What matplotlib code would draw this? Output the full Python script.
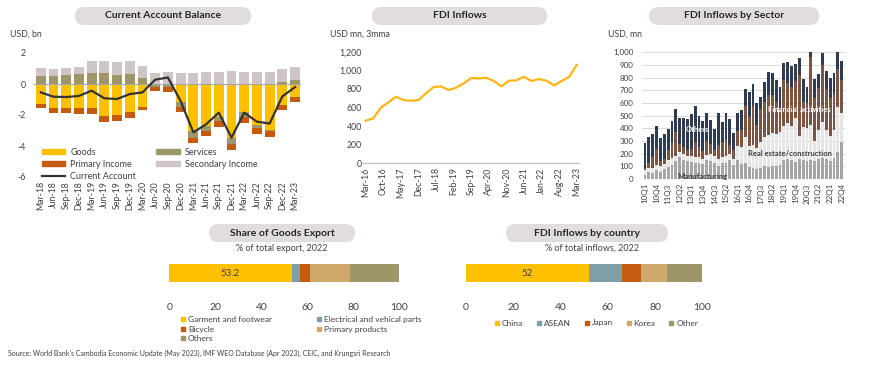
import matplotlib.pyplot as plt
import numpy as np
from matplotlib.patches import FancyBboxPatch, Patch
from matplotlib.lines import Line2D

plt.rcParams['font.family'] = ['Lato', 'DejaVu Sans']

W, H = 870, 378
TXT = '#404040'

# ---- Current account balance (USD bn), quarterly
ca_labels = ['Mar-18', 'Jun-18', 'Sep-18', 'Dec-18', 'Mar-19', 'Jun-19', 'Sep-19',
             'Dec-19', 'Mar-20', 'Jun-20', 'Sep-20', 'Dec-20', 'Mar-21', 'Jun-21',
             'Sep-21', 'Dec-21', 'Mar-22', 'Jun-22', 'Sep-22', 'Dec-22', 'Mar-23']
goods = [-1.29, -1.57, -1.57, -1.57, -1.53, -2.06, -2.00, -1.83, -1.50, -0.03, -0.02,
         -1.14, -3.03, -2.73, -2.10, -3.50, -1.78, -2.65, -2.97, -1.33, -0.84]
services = [0.54, 0.52, 0.56, 0.62, 0.73, 0.69, 0.58, 0.65, 0.37, -0.14, -0.19,
            -0.32, -0.43, -0.27, -0.28, -0.39, -0.32, -0.17, -0.05, 0.13, 0.28]
primary = [-0.28, -0.30, -0.30, -0.34, -0.41, -0.37, -0.39, -0.39, -0.15, -0.28, -0.28,
           -0.32, -0.37, -0.37, -0.37, -0.37, -0.43, -0.43, -0.43, -0.32, -0.34]
secondary = [0.47, 0.47, 0.47, 0.46, 0.75, 0.79, 0.82, 0.85, 0.79, 0.73, 0.80,
             0.73, 0.73, 0.75, 0.80, 0.84, 0.80, 0.75, 0.78, 0.84, 0.80]
current = [-0.54, -0.82, -0.84, -0.77, -0.43, -0.92, -0.97, -0.65, -0.54, 0.28, 0.42,
           -1.10, -3.12, -2.60, -1.85, -3.46, -1.85, -2.43, -2.55, -0.80, -0.20]

# ---- FDI inflows (USD mn, 3mma), quarterly points Mar-16..Mar-23
fdi_values = [458, 484, 598, 655, 716, 680, 673, 680, 752, 820, 827, 788, 813, 860, 917,
              913, 920, 885, 827, 888, 892, 931, 885, 906, 888, 838, 885, 928, 1057]
fdi_ticks = ['Mar-16', 'Oct-16', 'May-17', 'Dec-17', 'Jul-18', 'Feb-19', 'Sep-19',
             'Apr-20', 'Nov-20', 'Jun-21', 'Jan-22', 'Aug-22', 'Mar-23']

# ---- FDI inflows by sector (USD mn), 10Q1..22Q4
manufacturing = [35, 55, 50, 70, 55, 75, 95, 110, 140, 170, 150, 140, 135, 130, 125, 120,
                 150, 145, 130, 105, 125, 130, 150, 110, 150, 115, 125, 95, 85, 75, 90, 100,
                 95, 100, 105, 110, 150, 155, 150, 135, 155, 150, 140, 150, 145, 160, 165, 160,
                 140, 165, 210, 290]
real_estate = [35, 35, 35, 40, 45, 45, 55, 55, 40, 40, 45, 45, 45, 45, 45, 40,
               40, 55, 50, 55, 50, 55, 45, 50, 110, 140, 205, 165, 185, 170, 200, 230,
               255, 260, 250, 260, 270, 285, 270, 345, 185, 260, 260, 280, 155, 230, 285, 230,
               200, 225, 360, 230]
financial = [20, 35, 85, 125, 40, 40, 80, 125, 190, 65, 55, 45, 60, 115, 80, 60,
             110, 80, 50, 110, 115, 125, 75, 70, 120, 135, 250, 240, 310, 185, 260, 280,
             310, 300, 255, 190, 360, 320, 310, 290, 480, 200, 200, 530, 340, 330, 450, 320,
             300, 280, 300, 260]
others = [197, 209, 185, 186, 184, 195, 162, 165, 183, 204, 229, 244, 270, 286, 247, 235,
          224, 186, 162, 254, 160, 208, 201, 136, 140, 155, 128, 190, 170, 173, 100, 158,
          187, 180, 172, 164, 133, 166, 159, 135, 133, 177, 124, 40, 152, 109, 92, 140,
          160, 164, 130, 149]
sector_ticks = ['10Q1', '10Q4', '11Q3', '12Q2', '13Q1', '13Q4', '14Q3', '15Q2', '16Q1',
                '16Q4', '17Q3', '18Q2', '19Q1', '19Q4', '20Q3', '21Q2', '22Q1', '22Q4']

# ---- Share of goods export (% of total export, 2022)
export_names = ['Garment and footwear', 'Electrical and vehical parts', 'Bicycle',
                'Primary products', 'Others']
export_share = [53.2, 3.6, 4.4, 17.4, 21.4]

# ---- FDI inflows by country (% of total inflows, 2022)
country_names = ['China', 'ASEAN', 'Japan', 'Korea', 'Other']
country_share = [52, 14, 8, 11, 15]

C_GOODS = '#FFC000'
C_PRIM = '#C55A11'
C_SERV = '#9E9669'
C_SEC = '#CFC4C6'
C_TEAL = '#7F9FA8'
C_TAN = '#CFA96C'

fig = plt.figure(figsize=(W / 100, H / 100), dpi=100)


def px_axes(left, top, right, bottom):
    return fig.add_axes([left / W, 1 - bottom / H, (right - left) / W, (bottom - top) / H])


def pill(x0, y0, x1, y1, text, size=7.5):
    box = FancyBboxPatch(((x0) / 100, (H - y1) / 100), (x1 - x0) / 100, (y1 - y0) / 100,
                         boxstyle='round,pad=0,rounding_size=0.09',
                         transform=fig.dpi_scale_trans, fc='#E2DDDD', ec='none')
    fig.patches.append(box)
    fig.text((x0 + x1) / 2 / W, 1 - (y0 + y1) / 2 / H, text, ha='center', va='center',
             fontsize=size, fontweight='bold', color='#262626')


def clean(ax):
    for s in ax.spines.values():
        s.set_visible(False)
    ax.tick_params(length=0, colors=TXT)


# ================= Current account balance
ax1 = px_axes(34.4, 53, 301.4, 177)
clean(ax1)
x = np.arange(len(ca_labels))
g = np.array(goods)
s = np.array(services)
s_pos = np.clip(s, 0, None)
s_neg = np.clip(s, None, 0)
bw = 0.78
ax1.bar(x, g, bw, color=C_GOODS, zorder=2)
ax1.bar(x, s_neg, bw, bottom=g, color=C_SERV, zorder=2)
ax1.bar(x, primary, bw, bottom=g + s_neg, color=C_PRIM, zorder=2)
ax1.bar(x, s_pos, bw, color=C_SERV, zorder=2)
ax1.bar(x, secondary, bw, bottom=s_pos, color=C_SEC, zorder=2)
ax1.axhline(0, color='#A6A6A6', lw=0.8, zorder=3)
ax1.plot(x, current, color='#333333', lw=1.6, zorder=4)
ax1.set_xlim(-0.5, len(x) - 0.5)
ax1.set_ylim(-6, 2)
ax1.set_yticks([-6, -4, -2, 0, 2])
ax1.set_yticklabels(['-6', '-4', '-2', '0', '2'], fontsize=6.3)
ax1.tick_params(axis='y', pad=6)
ax1.set_xticks(x)
ax1.set_xticklabels(ca_labels, rotation=90, fontsize=6.3)
ax1.tick_params(axis='x', pad=3)
handles = [Patch(color=C_GOODS, label='Goods'),
           Patch(color=C_PRIM, label='Primary Income'),
           Line2D([], [], color='#333333', lw=1.6, label='Current Account'),
           Patch(color=C_SERV, label='Services'),
           Patch(color=C_SEC, label='Secondary Income')]
ax1.legend(handles=handles, ncol=2, frameon=False, fontsize=6.5, loc='upper left',
           bbox_to_anchor=((38 - 34.4) / 267, (177 - 144) / 124), handlelength=2.6,
           handleheight=0.55, labelspacing=0.35, columnspacing=2.2, handletextpad=0.6,
           borderaxespad=0, labelcolor=TXT)
fig.text(10 / W, 1 - 34 / H, 'USD, bn', fontsize=6.3, color=TXT, va='center')
pill(75, 7, 251, 25, 'Current Account Balance')

# ================= FDI inflows
ax2 = px_axes(363.2, 51.7, 579.2, 163.3)
clean(ax2)
months = np.arange(0, 3 * len(fdi_values), 3)
ax2.plot(months, fdi_values, color='#FFB515', lw=1.6)
ax2.set_xlim(-1, 85)
ax2.set_ylim(0, 1200)
ax2.spines['bottom'].set_visible(True)
ax2.spines['bottom'].set_color('#BFBFBF')
ax2.set_yticks(range(0, 1201, 200))
ax2.set_yticklabels([f'{v:,}' for v in range(0, 1201, 200)], fontsize=6.3)
ax2.tick_params(axis='y', pad=1)
ax2.set_xticks(np.arange(0, 85, 7))
ax2.set_xticklabels(fdi_ticks, rotation=90, fontsize=6.3)
ax2.tick_params(axis='x', pad=3)
fig.text(330 / W, 1 - 34 / H, 'USD mn, 3mma', fontsize=6.3, color=TXT, va='center')
pill(372, 7, 547, 25, 'FDI Inflows')

# ================= FDI inflows by sector
ax3 = px_axes(641.9, 52.3, 844.8, 179)
clean(ax3)
xs = np.arange(len(manufacturing))
m = np.array(manufacturing)
r = np.array(real_estate)
f = np.array(financial)
o = np.array(others)
sw = 0.72
ax3.bar(xs, m, sw, color='#A6A6A6', zorder=2)
ax3.bar(xs, r, sw, bottom=m, color='#E6E6E6', zorder=2)
ax3.bar(xs, f, sw, bottom=m + r, color='#7B5443', zorder=2)
ax3.bar(xs, o, sw, bottom=m + r + f, color='#2E3B50', zorder=2, clip_on=False)
ax3.set_xlim(-0.8, len(xs) - 0.2)
ax3.set_ylim(0, 1000)
ax3.set_yticks(range(0, 1001, 100))
ax3.set_yticklabels([f'{v:,}' for v in range(0, 1001, 100)], fontsize=5.8)
ax3.tick_params(axis='y', pad=6)
ax3.yaxis.grid(True, color='#D9D9D9', lw=0.7, zorder=0)
ax3.set_axisbelow(True)
ax3.set_xticks(np.arange(0, len(xs), 3))
ax3.set_xticklabels(sector_ticks, rotation=90, fontsize=5.8)
ax3.tick_params(axis='x', pad=3)
fig.text(702 / W, 1 - 177 / H, 'Manufacturing', fontsize=5.5, fontweight='bold',
         color='#404040', ha='center', va='center')
fig.text(790 / W, 1 - 154 / H, 'Real estate/construction', fontsize=5.5, fontweight='bold',
         color='#404040', ha='center', va='center')
fig.text(799 / W, 1 - 109 / H, 'Financial activities', fontsize=5.5, fontweight='bold',
         color='white', ha='center', va='center')
fig.text(697 / W, 1 - 130 / H, 'Others', fontsize=5.5, fontweight='bold',
         color='white', ha='center', va='center')
fig.text(608 / W, 1 - 34 / H, 'USD, mn', fontsize=6.3, color=TXT, va='center')
pill(649, 7, 819, 25, 'FDI Inflows by Sector')


# ================= Horizontal share bars
def share_bar(left, right, names, shares, colors, first_label):
    ax = px_axes(left, 252, right, 296)
    clean(ax)
    start = 0
    for name, val, col in zip(names, shares, colors):
        ax.barh(0.52, val, height=0.4, left=start, color=col, label=name)
        start += val
    ax.text(shares[0] / 2, 0.52, first_label, ha='center', va='center', fontsize=7,
            color=TXT)
    ax.set_xlim(0, 100)
    ax.set_ylim(0, 1)
    ax.set_yticks([])
    ax.set_xticks(range(0, 101, 20))
    ax.set_xticklabels([str(v) for v in range(0, 101, 20)], fontsize=7.5)
    ax.tick_params(axis='x', pad=5)
    return ax


ax4 = share_bar(169.3, 399.3, export_names, export_share,
                [C_GOODS, C_TEAL, C_PRIM, C_TAN, C_SERV], '53.2')
h4 = [Line2D([], [], marker='s', ls='none', color=c, markersize=3.5, label=n)
      for n, c in zip(export_names, [C_GOODS, C_TEAL, C_PRIM, C_TAN, C_SERV])]
order = [0, 2, 4, 1, 3]
fig.legend(handles=[h4[i] for i in order], ncol=2, frameon=False, fontsize=6,
           loc='upper left', bbox_to_anchor=(177 / W, 1 - 313 / H), handlelength=0.6,
           handletextpad=0.3, labelspacing=0.3, columnspacing=5.4, borderaxespad=0,
           labelcolor=TXT)
fig.text(282 / W, 1 - 248.3 / H, '% of total export, 2022', fontsize=6.5, color=TXT,
         ha='center', va='center')
pill(209, 224, 355, 242, 'Share of Goods Export')

ax5 = share_bar(465.7, 702.3, country_names, country_share,
                [C_GOODS, C_TEAL, C_PRIM, C_TAN, C_SERV], '52')
h5 = [Line2D([], [], marker='s', ls='none', color=c, markersize=3.5, label=n)
      for n, c in zip(country_names, [C_GOODS, C_TEAL, C_PRIM, C_TAN, C_SERV])]
fig.legend(handles=h5, ncol=5, frameon=False, fontsize=6, loc='center left',
           bbox_to_anchor=(491 / W, 1 - 323 / H), handlelength=0.6, handletextpad=0.3,
           columnspacing=1.6, borderaxespad=0, labelcolor=TXT)
fig.text(592 / W, 1 - 248.3 / H, '% of total inflows, 2022', fontsize=6.5, color=TXT,
         ha='center', va='center')
pill(506, 224, 668, 242, 'FDI Inflows by country')

fig.text(8 / W, 1 - 353.5 / H,
         "Source: World Bank's Cambodia Economic Update (May 2023), IMF WEO Database "
         "(Apr 2023), CEIC, and Krungsri Research",
         fontsize=5, color=TXT, va='center')

fig.savefig('out.png', dpi=100, facecolor='white')
